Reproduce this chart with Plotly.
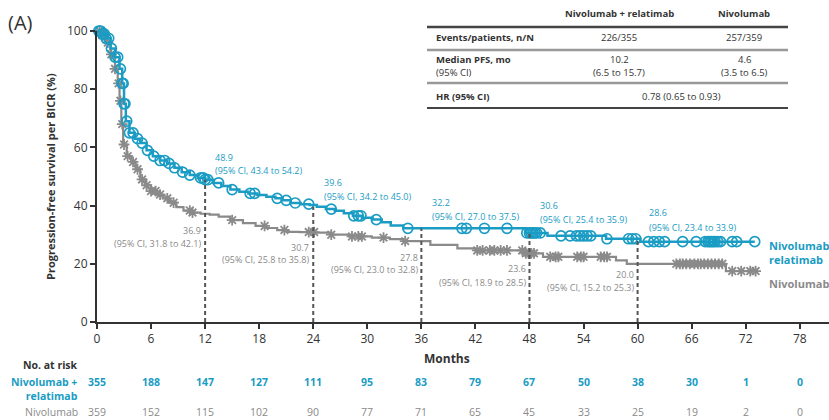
import plotly.graph_objects as go
import bisect

# ---------------- data ----------------
months_ticks = [0, 6, 12, 18, 24, 30, 36, 42, 48, 54, 60, 66, 72, 78]

# Nivolumab + relatlimab KM step curve
blue_t = [0, 0.5, 1, 1.5, 2, 2.5, 2.8, 3.0, 3.2, 3.6, 4.2, 4.8, 5.5, 6.2, 7.0, 7.8, 8.6,
          9.4, 10.3, 11.2, 12.0, 12.9, 13.8, 14.8, 15.8, 16.8, 17.8, 18.8, 19.8, 20.6,
          21.5, 22.6, 23.6, 24.4, 25.4, 26.4, 27.4, 28.4, 29.4, 30.6, 31.6, 32.6, 34.0,
          47.6, 50.0, 56.5, 60.3, 73.0]
blue_s = [100, 99, 97.5, 94, 91, 87, 82, 75, 69, 65, 63, 61.5, 59, 57, 55.5, 54.5, 53,
          51.5, 50.5, 49.5, 48.9, 47.8, 46.7, 45.5, 44.8, 44.2, 43.6, 43, 42.5, 41.8,
          40.9, 40.5, 40.2, 39.6, 38.8, 38.2, 37.4, 36.5, 35.8, 35.2, 34.3, 33.2, 32.2,
          30.6, 29.6, 28.6, 27.6, 27.6]
blue_cens = [0.2, 0.4, 0.6, 0.8, 1.0, 1.3, 1.6, 2.0, 2.3, 2.6, 2.8, 2.9, 3.0, 3.1, 3.3,
             3.6, 4.0, 4.5, 5.0, 5.6, 6.3, 7.0, 7.5, 8.0, 8.6, 9.5, 10.3, 11.5, 11.8, 12.0,
             12.3, 13.5, 15.0, 17.0, 17.5, 20.0, 21.0, 22.0, 23.5, 26.0, 28.5, 29.0, 29.3,
             31.0, 34.5, 40.5, 41.0, 43.0, 45.5, 47.7, 48.0, 48.2, 48.4, 48.6, 48.8, 49.2,
             51.5, 52.5, 53.2, 53.6, 54.0, 54.4, 54.8, 56.6, 59.0, 59.4, 59.8, 61.2, 61.8,
             62.4, 63.0, 65.0, 66.5, 67.5, 67.8, 68.0, 68.2, 68.4, 68.6, 68.9, 69.2, 70.5,
             71.0, 73.0]

# Nivolumab KM step curve
gray_t = [0, 0.5, 1, 1.5, 2, 2.3, 2.5, 2.7, 2.9, 3.3, 3.8, 4.3, 4.8, 5.4, 6.0, 6.6, 7.3,
          8.0, 8.8, 9.6, 10.5, 11.5, 12.5, 13.5, 14.8, 16.2, 17.6, 18.8, 20.0, 21.2, 22.5,
          24.2, 26.0, 28.0, 30.5, 32.5, 34.0, 37.0, 40.0, 42.0, 47.5, 49.5, 57.6, 58.8,
          69.8, 73.2]
gray_s = [100, 98.5, 96, 92, 87, 82, 76, 68, 61, 57, 55, 52.5, 49, 47, 45, 43.8, 42.5,
          41, 39.5, 38.3, 37.6, 37.2, 36.9, 36.2, 35.0, 34.0, 33.0, 32.3, 31.6, 31.0, 30.9,
          30.7, 30.0, 29.4, 29.0, 28.5, 27.8, 26.5, 25.3, 24.6, 23.6, 22.4, 21.2, 20.0,
          17.5, 17.5]
gray_cens = [0.3, 0.6, 0.9, 1.2, 1.6, 2.0, 2.4, 2.6, 2.8, 3.0, 3.4, 4.0, 4.5, 5.0, 5.5,
             6.0, 6.5, 7.0, 7.8, 8.5, 10.3, 10.6, 15.0, 18.6, 20.8, 23.5, 24.1, 26.0, 28.3,
             29.0, 29.4, 31.8, 34.2, 42.2, 42.8, 43.6, 44.1, 44.8, 45.5, 47.2, 47.6, 47.9,
             48.2, 48.5, 50.3, 50.9, 51.2, 53.3, 53.7, 54.0, 55.9, 56.3, 56.6, 64.3, 64.7,
             65.0, 65.4, 65.8, 66.3, 66.7, 67.0, 67.4, 67.8, 68.2, 68.6, 69.0, 69.4, 70.5,
             71.5, 72.5, 73.1]

milestone_months = [12, 24, 36, 48, 60]
blue_milestone = [48.9, 39.6, 32.2, 30.6, 28.6]
blue_ci = ["(95% CI, 43.4 to 54.2)", "(95% CI, 34.2 to 45.0)", "(95% CI, 27.0 to 37.5)",
           "(95% CI, 25.4 to 35.9)", "(95% CI, 23.4 to 33.9)"]
gray_milestone = [36.9, 30.7, 27.8, 23.6, 20.0]
gray_ci = ["(95% CI, 31.8 to 42.1)", "(95% CI, 25.8 to 35.8)", "(95% CI, 23.0 to 32.8)",
           "(95% CI, 18.9 to 28.5)", "(95% CI, 15.2 to 25.3)"]

risk_blue = [355, 188, 147, 127, 111, 95, 83, 79, 67, 50, 38, 30, 1, 0]
risk_gray = [359, 152, 115, 102, 90, 77, 71, 65, 45, 33, 25, 19, 2, 0]

table_header = ["Nivolumab + relatimab", "Nivolumab"]
table_events = ["226/355", "257/359"]
table_median = ["10.2", "4.6"]
table_median_ci = ["(6.5 to 15.7)", "(3.5 to 6.5)"]
table_hr = "0.78 (0.65 to 0.93)"

# ---------------- style ----------------
BLUE = "#1a9cc4"
GRAY = "#8a8a8a"
DARK = "#333333"
FONT = "Open Sans"
W, H = 829, 420
ML, MR, MT, MB = 97, 0, 31, 98
XMAX = (W - ML - MR) / 9.01


def step_at(ts, ss, t):
    i = bisect.bisect_right(ts, t) - 1
    return ss[max(i, 0)]


def px(xp):
    return (xp - ML) / (W - ML - MR)


def py(yp):
    return (H - MB - yp) / (H - MB - MT)


fig = go.Figure()

fig.add_trace(go.Scatter(x=gray_t, y=gray_s, mode="lines", line_shape="hv",
                         line=dict(color=GRAY, width=2.2), showlegend=False, hoverinfo="skip"))
fig.add_trace(go.Scatter(x=gray_cens, y=[step_at(gray_t, gray_s, t) for t in gray_cens],
                         mode="markers", cliponaxis=False,
                         marker=dict(symbol="asterisk-open", size=9, color=GRAY,
                                     line=dict(color=GRAY, width=1.8)),
                         showlegend=False, hoverinfo="skip"))
fig.add_trace(go.Scatter(x=blue_t, y=blue_s, mode="lines", line_shape="hv",
                         line=dict(color=BLUE, width=2.5), showlegend=False, hoverinfo="skip"))
fig.add_trace(go.Scatter(x=blue_cens, y=[step_at(blue_t, blue_s, t) for t in blue_cens],
                         mode="markers", cliponaxis=False,
                         marker=dict(symbol="circle-open", size=10, color=BLUE,
                                     line=dict(color=BLUE, width=1.7)),
                         showlegend=False, hoverinfo="skip"))

shapes = []
for m, v in zip(milestone_months, blue_milestone):
    shapes.append(dict(type="line", xref="x", yref="y", x0=m, x1=m, y0=0, y1=v,
                       line=dict(color="#555555", width=2, dash="4px,3px")))

annotations = []
# blue milestone labels
boff = [(0.9, 7.8, 3.0), (1.0, 8.2, 3.7), (1.0, 8.7, 3.9), (0.9, 9.6, 4.5), (1.0, 8.9, 4.0)]
for (m, v, ci), (dx, dy1, dy2) in zip(zip(milestone_months, blue_milestone, blue_ci), boff):
    annotations.append(dict(x=m + dx, y=v + dy1, xref="x", yref="y", text=f"{v:.1f}",
                            showarrow=False, xanchor="left", yanchor="middle",
                            font=dict(family=FONT, size=9, color=BLUE)))
    annotations.append(dict(x=m + dx, y=v + dy2, xref="x", yref="y", text=ci,
                            showarrow=False, xanchor="left", yanchor="middle",
                            font=dict(family=FONT, size=9, color=BLUE)))
# gray milestone labels
goff = [(-5.6, -9.8), (-5.0, -9.1), (-5.6, -9.6), (-5.2, -9.9), (-3.6, -8.0)]
for (m, v, ci), (dy1, dy2) in zip(zip(milestone_months, gray_milestone, gray_ci), goff):
    annotations.append(dict(x=m - 0.2, y=v + dy1, xref="x", yref="y", text=f"{v:.1f}",
                            showarrow=False, xanchor="right", yanchor="middle",
                            font=dict(family=FONT, size=9, color=GRAY)))
    annotations.append(dict(x=m - 0.2, y=v + dy2, xref="x", yref="y", text=ci,
                            showarrow=False, xanchor="right", yanchor="middle",
                            font=dict(family=FONT, size=9, color=GRAY)))

# end-of-curve labels
annotations.append(dict(x=px(767), y=py(252), xref="paper", yref="paper",
                        text="<b>Nivolumab +<br>relatimab</b>", showarrow=False,
                        xanchor="left", yanchor="middle", align="left",
                        font=dict(family=FONT, size=11, color=BLUE)))
annotations.append(dict(x=px(767), y=py(283), xref="paper", yref="paper",
                        text="<b>Nivolumab</b>", showarrow=False,
                        xanchor="left", yanchor="middle",
                        font=dict(family=FONT, size=11, color=GRAY)))

# panel label
annotations.append(dict(x=px(6), y=py(22), xref="paper", yref="paper", text="(A)",
                        showarrow=False, xanchor="left", yanchor="middle",
                        font=dict(family=FONT, size=20, color=DARK)))
# y title
annotations.append(dict(x=px(50), y=py(177), xref="paper", yref="paper",
                        text="<b>Progression-free survival per BICR (%)</b>", textangle=-90,
                        showarrow=False, xanchor="center", yanchor="middle",
                        font=dict(family=FONT, size=11, color=DARK)))
# x title
annotations.append(dict(x=px(447), y=py(358), xref="paper", yref="paper",
                        text="<b>Months</b>", showarrow=False, xanchor="center",
                        yanchor="middle", font=dict(family=FONT, size=12, color=DARK)))

# risk table
annotations.append(dict(x=px(80), y=py(365), xref="paper", yref="paper",
                        text="<b>No. at risk</b>", showarrow=False, xanchor="right",
                        yanchor="middle", font=dict(family=FONT, size=10.5, color=DARK)))
annotations.append(dict(x=px(80), y=py(389), xref="paper", yref="paper",
                        text="<b>Nivolumab +<br>relatimab</b>", showarrow=False,
                        xanchor="right", yanchor="middle", align="right",
                        font=dict(family=FONT, size=10.5, color=BLUE)))
annotations.append(dict(x=px(80), y=py(412), xref="paper", yref="paper",
                        text="Nivolumab", showarrow=False, xanchor="right",
                        yanchor="middle", font=dict(family=FONT, size=10.5, color=GRAY)))
for m, rb, rg in zip(months_ticks, risk_blue, risk_gray):
    annotations.append(dict(x=m, y=py(382), xref="x", yref="paper", text=f"<b>{rb}</b>",
                            showarrow=False, xanchor="center", yanchor="middle",
                            font=dict(family=FONT, size=10.5, color=BLUE)))
    annotations.append(dict(x=m, y=py(412), xref="x", yref="paper",
                            text=f"{rg}", showarrow=False, xanchor="center",
                            yanchor="middle", font=dict(family=FONT, size=10.5, color=GRAY)))

# summary table
tx0, tx1 = px(427), px(788)
shapes.append(dict(type="line", xref="paper", yref="paper", x0=tx0, x1=tx1,
                   y0=py(27), y1=py(27), line=dict(color="#444444", width=2.5)))
for yy in (50, 83):
    shapes.append(dict(type="line", xref="paper", yref="paper", x0=tx0, x1=tx1,
                       y0=py(yy), y1=py(yy), line=dict(color="#999999", width=2.5)))
shapes.append(dict(type="line", xref="paper", yref="paper", x0=tx0, x1=tx1,
                   y0=py(108), y1=py(108), line=dict(color="#444444", width=2)))

col_x = [px(619), px(744)]
TF = dict(family=FONT, size=9.5, color=DARK)
for cx, h, e, md, mci in zip(col_x, table_header, table_events, table_median,
                              table_median_ci):
    annotations.append(dict(x=cx, y=py(13), xref="paper", yref="paper", text=f"<b>{h}</b>",
                            showarrow=False, xanchor="center", yanchor="middle", font=TF))
    annotations.append(dict(x=cx, y=py(37), xref="paper", yref="paper", text=e,
                            showarrow=False, xanchor="center", yanchor="middle", font=TF))
    annotations.append(dict(x=cx, y=py(59), xref="paper", yref="paper", text=md,
                            showarrow=False, xanchor="center", yanchor="middle", font=TF))
    annotations.append(dict(x=cx, y=py(72), xref="paper", yref="paper", text=mci,
                            showarrow=False, xanchor="center", yanchor="middle", font=TF))
for txt, yy in (("<b>Events/patients, n/N</b>", 37), ("<b>Median PFS, mo</b>", 59),
                ("(95% CI)", 72), ("<b>HR (95% CI)</b>", 97)):
    annotations.append(dict(x=px(434), y=py(yy), xref="paper", yref="paper", text=txt,
                            showarrow=False, xanchor="left", yanchor="middle", font=TF))
annotations.append(dict(x=px(681), y=py(97), xref="paper", yref="paper", text=table_hr,
                        showarrow=False, xanchor="center", yanchor="middle", font=TF))

fig.update_layout(
    width=W, height=H,
    margin=dict(l=ML, r=MR, t=MT, b=MB),
    paper_bgcolor="white", plot_bgcolor="white",
    shapes=shapes, annotations=annotations,
    xaxis=dict(range=[0, XMAX], tickvals=months_ticks, showgrid=False, zeroline=False,
               showline=True, linecolor=DARK, linewidth=2, ticks="outside", ticklen=5,
               tickwidth=2, tickcolor=DARK,
               tickfont=dict(family=FONT, size=12, color=DARK)),
    yaxis=dict(range=[0, 100], tickvals=[0, 20, 40, 60, 80, 100], showgrid=False,
               zeroline=False, showline=True, linecolor=DARK, linewidth=2,
               ticks="outside", ticklen=5, tickwidth=2, tickcolor=DARK,
               tickfont=dict(family=FONT, size=12, color=DARK)),
)

fig.write_html("out.html", config={"displayModeBar": False},
               post_script="document.body.style.margin='0';document.body.style.padding='0';")
